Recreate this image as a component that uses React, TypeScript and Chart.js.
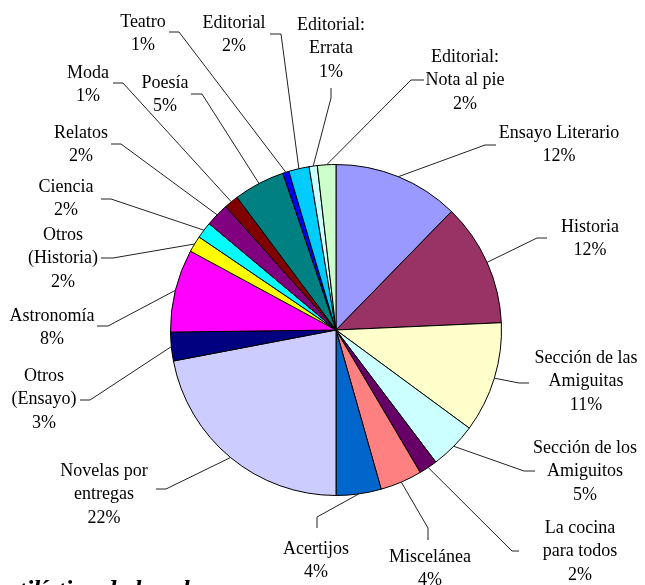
import React, { useEffect, useRef } from "react";
import { Chart, registerables } from "chart.js";

Chart.register(...registerables);

// ---- Data ----
const categories = [
  "Ensayo Literario",
  "Historia",
  "Sección de las Amiguitas",
  "Sección de los Amiguitos",
  "La cocina para todos",
  "Miscelánea",
  "Acertijos",
  "Novelas por entregas",
  "Otros (Ensayo)",
  "Astronomía",
  "Otros (Historia)",
  "Ciencia",
  "Relatos",
  "Moda",
  "Poesía",
  "Teatro",
  "Editorial",
  "Editorial: Errata",
  "Editorial: Nota al pie",
];

const values = [12.3, 12.0, 10.8, 4.6, 1.8, 4.1, 4.4, 22.0, 2.8, 8.1, 1.6, 1.6, 2.3, 1.4, 5.0, 0.6, 2.0, 0.8, 1.8];

// label text split into lines (text only)
const labelLines = [
  ["Ensayo Literario"],
  ["Historia"],
  ["Sección de las", "Amiguitas"],
  ["Sección de los", "Amiguitos"],
  ["La cocina", "para todos"],
  ["Miscelánea"],
  ["Acertijos"],
  ["Novelas por", "entregas"],
  ["Otros", "(Ensayo)"],
  ["Astronomía"],
  ["Otros", "(Historia)"],
  ["Ciencia"],
  ["Relatos"],
  ["Moda"],
  ["Poesía"],
  ["Teatro"],
  ["Editorial"],
  ["Editorial:", "Errata"],
  ["Editorial:", "Nota al pie"],
];

const captionText = "estilística de los el";

// ---- Styles / layout ----
const sliceColors = [
  "#9999FF", "#993366", "#FFFFCC", "#CCFFFF", "#660066", "#FF8080", "#0066CC",
  "#CCCCFF", "#000080", "#FF00FF", "#FFFF00", "#00FFFF", "#800080", "#800000",
  "#008080", "#0000FF", "#00CCFF", "#CCFFFF", "#CCFFCC",
];

// label placement: text centre x, first line y, leader elbow, leader end
const labelLayout = [
  { cx: 559, y: 133, elbow: [485, 145], end: [496, 145] },
  { cx: 590, y: 227, elbow: [537, 238], end: [547, 238] },
  { cx: 586, y: 358, elbow: [519, 383], end: [529, 383] },
  { cx: 585, y: 448, elbow: [524, 471], end: [535, 471] },
  { cx: 580, y: 528, elbow: [512, 551], end: [519, 551] },
  { cx: 430, y: 557, elbow: [428, 528], end: [428, 540] },
  { cx: 316, y: 549, elbow: [317, 517], end: [317, 528] },
  { cx: 104, y: 471, elbow: [166, 489], end: [156, 489] },
  { cx: 44, y: 376, elbow: [90, 400], end: [80, 400] },
  { cx: 52, y: 316, elbow: [108, 326], end: [97, 326] },
  { cx: 63, y: 235, elbow: [113, 258], end: [101, 258] },
  { cx: 66, y: 187, elbow: [111, 199], end: [101, 199] },
  { cx: 81, y: 133, elbow: [121, 144], end: [111, 144] },
  { cx: 88, y: 73, elbow: [123, 83], end: [113, 83] },
  { cx: 165, y: 83, elbow: [202, 94], end: [191, 94] },
  { cx: 143, y: 22, elbow: [179, 32], end: [169, 32] },
  { cx: 234, y: 23, elbow: [281, 34], end: [270, 34] },
  { cx: 331, y: 25, elbow: [331, 98], end: [331, 88] },
  { cx: 465, y: 57, elbow: [411, 80], end: [424, 80] },
];

const LINE_H = 23.5;
const FONT = "18px 'Liberation Serif', 'Times New Roman', serif";

const labelPlugin = {
  id: "excelLabels",
  afterDatasetsDraw(chart: any) {
    const ctx = chart.ctx;
    const meta = chart.getDatasetMeta(0);
    const total = values.reduce((a, b) => a + b, 0);
    ctx.save();
    ctx.strokeStyle = "#222";
    ctx.lineWidth = 1;
    meta.data.forEach((arc: any, i: number) => {
      const L = labelLayout[i];
      const mid = (arc.startAngle + arc.endAngle) / 2;
      const px = arc.x + Math.cos(mid) * arc.outerRadius;
      const py = arc.y + Math.sin(mid) * arc.outerRadius;
      ctx.beginPath();
      ctx.moveTo(px, py);
      ctx.lineTo(L.elbow[0], L.elbow[1]);
      ctx.lineTo(L.end[0], L.end[1]);
      ctx.stroke();
      const lines = [...labelLines[i], Math.round((values[i] / total) * 100) + "%"];
      ctx.fillStyle = "#000";
      ctx.font = FONT;
      ctx.textAlign = "center";
      ctx.textBaseline = "middle";
      lines.forEach((t, k) => ctx.fillText(t, L.cx, L.y + k * LINE_H));
    });
    // caption at the bottom (mostly cut off)
    ctx.font = "italic bold 26px 'Liberation Serif', 'Times New Roman', serif";
    ctx.textAlign = "left";
    ctx.textBaseline = "alphabetic";
    ctx.fillStyle = "#000";
    ctx.fillText(captionText, -3, 598);
    ctx.restore();
  },
};

export default function App() {
  const ref = useRef<HTMLCanvasElement | null>(null);
  useEffect(() => {
    if (!ref.current) return;
    const chart = new Chart(ref.current, {
      type: "pie",
      data: {
        labels: categories,
        datasets: [
          {
            data: values,
            backgroundColor: sliceColors,
            borderColor: "#000",
            borderWidth: 1,
          },
        ],
      },
      options: {
        responsive: false,
        animation: false,
        events: [],
        layout: { padding: { left: 170, right: 143, top: 164, bottom: 89 } },
        plugins: { legend: { display: false }, tooltip: { enabled: false } },
      },
      plugins: [labelPlugin],
    });
    return () => chart.destroy();
  }, []);
  return (
    <div style={{ position: "fixed", left: 0, top: 0, width: 645, height: 585, background: "#fff", overflow: "hidden" }}>
      <canvas ref={ref} width={645} height={585} style={{ display: "block" }} />
    </div>
  );
}
